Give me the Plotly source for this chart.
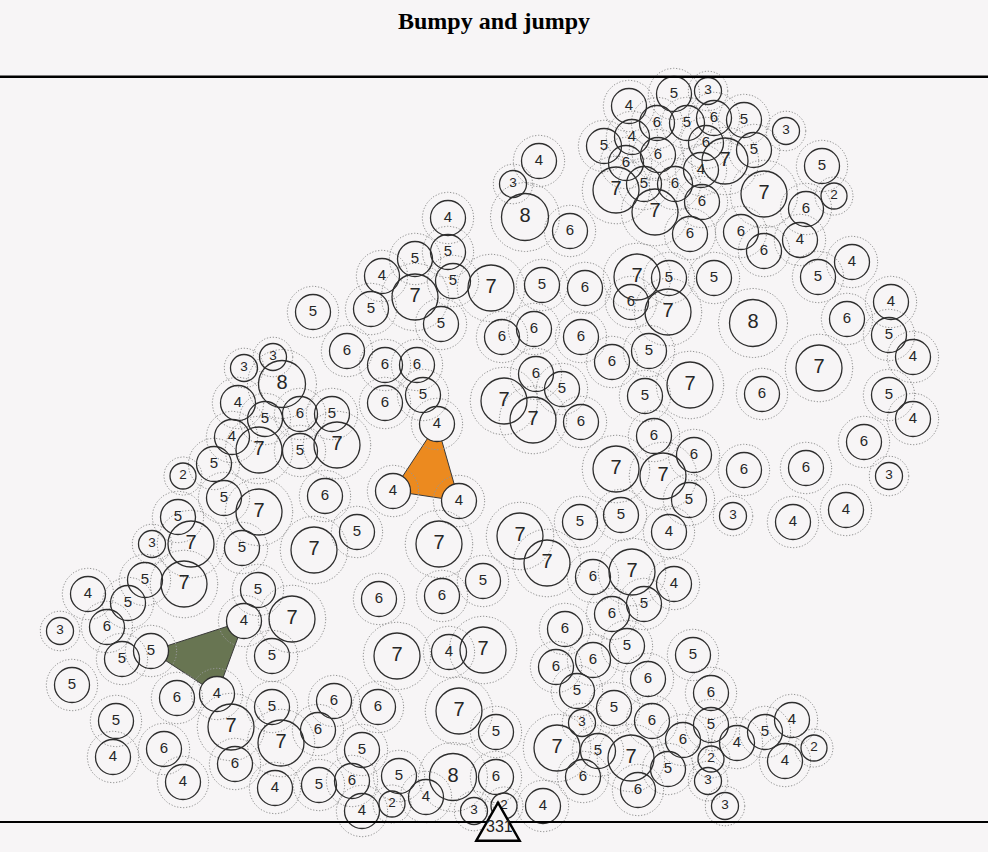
import numpy as np
import plotly.graph_objects as go

TITLE = "Bumpy and jumpy"

# Node positions (layout units) and node values
NODE_X = [629, 674, 708, 657, 687, 714, 744, 786, 632, 604, 706, 754, 658, 725, 626, 701, 822, 616, 644, 675,
          764, 834, 702, 655, 806, 690, 741, 764, 800, 852, 539, 513, 525, 570, 448, 448, 415,
          382, 415, 453, 371, 441, 313, 347, 385, 417, 385, 423, 437, 273, 244, 282, 238, 265, 300, 332,
          232, 259, 300, 337, 214, 183,
          491, 542, 585, 637, 669, 631, 668, 714, 502, 534, 581, 612, 649, 690, 645, 536, 562, 504, 533,
          581, 654, 694, 616, 663, 689, 621, 580, 669, 520, 547,
          818, 753, 891, 847, 889, 913, 819, 762, 889, 913, 864, 889, 744, 806, 733, 793, 846,
          224, 259, 178, 152, 191, 242, 314, 325, 145, 184, 88, 128, 258, 244, 292, 60, 107, 151, 122,
          272, 72, 217, 177,
          393, 459, 357, 439, 483, 379, 442, 397, 449, 483, 565, 556,
          272, 116, 231, 281, 318, 113, 164, 235, 183, 275, 319,
          334, 378, 459, 496, 362, 352, 362, 399, 392, 426, 453, 496, 474, 504, 543,
          593, 632, 674, 644, 612, 627, 593, 693, 648, 577, 711, 614, 582, 652, 711, 683, 737, 765, 557,
          598, 631, 668, 711, 583, 638, 708, 725,
          792, 785, 814]
NODE_Y = [106, 94, 91, 123, 123, 118, 120, 131, 137, 146, 143, 150, 155, 161, 163, 170, 166, 190, 184, 184,
          194, 196, 202, 212, 209, 234, 232, 251, 240, 262, 161, 184, 217, 231, 218, 252, 259,
          276, 297, 281, 309, 324, 312, 351, 365, 365, 403, 395, 424, 357, 368, 384, 403, 419, 414, 414,
          437, 450, 451, 445, 464, 476,
          288, 285, 288, 277, 278, 302, 312, 278, 337, 329, 337, 362, 351, 385, 396, 374, 389, 401, 420,
          422, 436, 455, 469, 476, 500, 515, 522, 532, 536, 563,
          277, 323, 302, 319, 335, 357, 368, 394, 395, 419, 442, 476, 470, 468, 516, 522, 510,
          498, 512, 517, 544, 544, 548, 550, 496, 580, 584, 594, 603, 590, 621, 619, 631, 627, 651, 659,
          656, 685, 694, 698,
          491, 501, 532, 544, 581, 599, 596, 656, 652, 650, 629, 667,
          707, 721, 727, 743, 730, 757, 749, 764, 782, 788, 785,
          701, 707, 711, 732, 750, 781, 811, 776, 804, 797, 777, 777, 811, 806, 806,
          577, 572, 584, 604, 614, 646, 660, 655, 679, 691, 693, 708, 723, 721, 725, 740, 743, 732, 748,
          751, 758, 769, 759, 777, 790, 781, 806,
          720, 761, 748]
NODE_VALUE = [4, 5, 3, 6, 5, 6, 5, 3, 4, 5, 6, 5, 6, 7, 6, 4, 5, 7, 5, 6,
              7, 2, 6, 7, 6, 6, 6, 6, 4, 4, 4, 3, 8, 6, 4, 5, 5,
              4, 7, 5, 5, 5, 5, 6, 6, 6, 6, 5, 4, 3, 3, 8, 4, 5, 6, 5,
              4, 7, 5, 7, 5, 2,
              7, 5, 6, 7, 5, 6, 7, 5, 6, 6, 6, 6, 5, 7, 5, 6, 5, 7, 7,
              6, 6, 6, 7, 7, 5, 5, 5, 4, 7, 7,
              5, 8, 4, 6, 5, 4, 7, 6, 5, 4, 6, 3, 6, 6, 3, 4, 4,
              5, 7, 5, 3, 7, 5, 7, 6, 5, 7, 4, 5, 5, 4, 7, 3, 6, 5, 5,
              5, 5, 4, 6,
              4, 4, 5, 7, 5, 6, 6, 7, 4, 7, 6, 6,
              5, 5, 7, 7, 6, 4, 6, 6, 4, 4, 5,
              6, 6, 7, 5, 5, 6, 4, 5, 2, 4, 8, 6, 3, 2, 4,
              6, 7, 4, 5, 6, 5, 6, 5, 6, 5, 6, 5, 3, 6, 5, 6, 4, 5, 7,
              5, 7, 5, 2, 6, 6, 3, 3,
              4, 4, 2]

# Highlighted groups (indices into the node lists)
ORANGE_GROUP = [48, 132, 133]
GREEN_GROUP = [126, 122, 130]

TOTAL_LABEL = "331"
TOTAL_X = 498

# ---------------- styling ----------------
W, H = 988, 852
BG = "#f7f5f6"
INK = "#2e2e2e"
RULE_TOP_Y = 76.7
RULE_BASE_Y = 822
RADIUS = {2: 13, 3: 13.5, 4: 17.5, 5: 17.5, 6: 17.5, 7: 23, 8: 23.5}
FONT_SIZE = {2: 13.5, 3: 13.5, 4: 15, 5: 15, 6: 15, 7: 20, 8: 20}
HALO = 1.47

xs = np.array(NODE_X, dtype=float)
ys = np.array(NODE_Y, dtype=float)
vals = list(NODE_VALUE)
radii = np.array([RADIUS[v] for v in vals])

fig = go.Figure()


def group_trace(idx, color):
    gx = [NODE_X[i] for i in idx] + [NODE_X[idx[0]]]
    gy = [NODE_Y[i] for i in idx] + [NODE_Y[idx[0]]]
    return go.Scatter(x=gx, y=gy, mode="lines", fill="toself", fillcolor=color,
                      line=dict(color="#3a3a3a", width=1), hoverinfo="skip")


fig.add_trace(group_trace(ORANGE_GROUP, "#ec8a1f"))
fig.add_trace(group_trace(GREEN_GROUP, "#687552"))

# opaque fills
fig.add_trace(go.Scatter(x=xs, y=ys, mode="markers",
                         marker=dict(size=2 * radii, color=BG, opacity=1, line=dict(width=0)),
                         hoverinfo="skip"))

# dotted halos
theta = np.linspace(0, 2 * np.pi, 80)
hx, hy = [], []
for cx, cy, r in zip(xs, ys, radii):
    R = r * HALO
    hx.extend(list(cx + R * np.cos(theta)) + [None])
    hy.extend(list(cy + R * np.sin(theta)) + [None])
fig.add_trace(go.Scatter(x=hx, y=hy, mode="lines",
                         line=dict(color="#959595", width=1, dash="1.3px,1.7px"),
                         hoverinfo="skip"))

# outlines
fig.add_trace(go.Scatter(x=xs, y=ys, mode="markers",
                         marker=dict(symbol="circle-open", size=2 * radii, color=INK, opacity=1,
                                     line=dict(width=1.3, color=INK)),
                         hoverinfo="skip"))

# labels
fig.add_trace(go.Scatter(x=xs, y=ys, mode="text", text=[str(v) for v in vals],
                         textposition="middle center",
                         textfont=dict(family="Liberation Sans, Arial, sans-serif",
                                       size=[FONT_SIZE[v] for v in vals], color="#262626"),
                         hoverinfo="skip"))

shapes = [
    dict(type="line", xref="paper", x0=0, x1=1, yref="y", y0=RULE_TOP_Y, y1=RULE_TOP_Y,
         line=dict(color="#000", width=2.6), layer="above"),
    dict(type="line", xref="paper", x0=0, x1=1, yref="y", y0=RULE_BASE_Y, y1=RULE_BASE_Y,
         line=dict(color="#000", width=2.2), layer="above"),
]
tri_h_up, tri_h_dn, tri_w = 19.3, 18.7, 21.7
shapes.append(dict(type="path", xref="x", yref="y",
                   path=f"M {TOTAL_X - tri_w},{RULE_BASE_Y + tri_h_dn} L {TOTAL_X},{RULE_BASE_Y - tri_h_up} "
                        f"L {TOTAL_X + tri_w},{RULE_BASE_Y + tri_h_dn} Z",
                   fillcolor=BG, line=dict(color="#000", width=2.4), layer="above"))

annotations = [
    dict(text=f"<b>{TITLE}</b>", x=0.5, xref="paper", y=21, yref="y", showarrow=False,
         font=dict(family="Liberation Serif, serif", size=24, color="#000"),
         xanchor="center", yanchor="middle"),
    dict(text=TOTAL_LABEL, x=TOTAL_X + 1, y=RULE_BASE_Y + 4, xref="x", yref="y", showarrow=False,
         font=dict(family="Liberation Sans, Arial, sans-serif", size=16, color="#222"),
         xanchor="center", yanchor="middle"),
]

fig.update_layout(
    width=W, height=H, autosize=False,
    margin=dict(l=0, r=0, t=0, b=0, pad=0),
    paper_bgcolor=BG, plot_bgcolor=BG,
    showlegend=False, hovermode=False,
    xaxis=dict(range=[0, W], visible=False, fixedrange=True),
    yaxis=dict(range=[H, 0], visible=False, fixedrange=True),
    shapes=shapes, annotations=annotations,
)

fig.write_html("out.html", config={"displayModeBar": False})
